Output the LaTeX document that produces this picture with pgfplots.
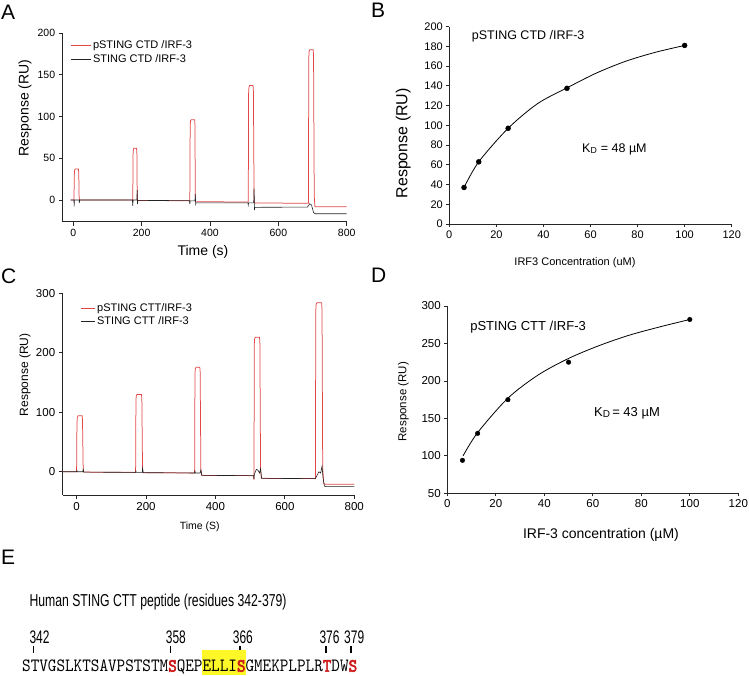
\documentclass[border=0pt]{standalone}
\usepackage{pgfplots}
\pgfplotsset{compat=1.18}
\usepackage{fontspec}
\setmainfont{Liberation Sans}
\newfontfamily\mono[AutoFakeBold=3]{Latin Modern Mono}
\definecolor{spr}{RGB}{226,70,70}
\definecolor{refl}{RGB}{35,35,35}
\definecolor{resred}{RGB}{205,25,25}
\definecolor{hl}{RGB}{255,248,40}
\newcommand{\fs}[1]{\fontsize{#1}{#1}\selectfont}

\pgfplotsset{
  panel/.style={
    scale only axis, clip=false,
    axis lines=left, axis line style={-, black!85, line width=0.8pt},
    tick align=outside, major tick length=4pt,
    tick style={black!85, line width=0.8pt},
    /pgf/number format/assume math mode=true,
    scaled ticks=false,
    xlabel style={anchor=center}, ylabel style={anchor=center},
  },
  sprleg/.style={
    legend cell align=left,
    legend style={draw=none, fill=none, inner sep=0pt, row sep=0pt},
  },
}

\begin{document}
\begin{tikzpicture}
\useasboundingbox (0pt,0pt) rectangle (749pt,676pt);

% panel letters
\node[anchor=base west, inner sep=0pt] at (1pt,656pt) {\fs{21}A};
\node[anchor=base west, inner sep=0pt] at (371pt,658pt) {\fs{21}B};
\node[anchor=base west, inner sep=0pt] at (1pt,392pt) {\fs{21}C};
\node[anchor=base west, inner sep=0pt] at (371pt,393pt) {\fs{21}D};
\node[anchor=base west, inner sep=0pt] at (1pt,111pt) {\fs{21}E};

% ---------- A: sensorgram, CTD ----------
\begin{axis}[panel, sprleg,
  at={(62.7pt,454.3pt)}, anchor=south west,
  width=284pt, height=188.7pt,
  xmin=-31, xmax=800, ymin=-26, ymax=200,
  xtick={0,200,400,600,800}, ytick={0,50,100,150,200},
  tick label style={font=\fs{10.5}},
  xlabel={Time (s)}, ylabel={Response (RU)},
  xlabel style={at={(axis description cs:0.494,-0.16)}, font=\fs{14}},
  ylabel style={at={(axis description cs:-0.133,0.603)}, font=\fs{14}},
  legend style={at={(axis description cs:0.026,0.97)}, anchor=north west, font=\fs{11}},
  legend image code/.code={\draw[#1] (0pt,0pt) -- (20pt,0pt);},
]
\addplot[spr, line width=0.75pt] coordinates {
  (-8,0) (2,0) (3,30) (4,36) (6,37) (15,37) (16,33) (17,5) (18,0)
  (174,0) (175,55) (176,61) (178,62) (185,62) (186,58) (187,5) (188,-0.5)
  (341,-1) (342,88) (343,95) (345,96) (355,96) (356,90) (357,5) (358,-2)
  (512,-2.5) (513,128) (514,135) (516,137) (526,137) (527,130) (529,5) (530,-3.5)
  (688,-4) (689,170) (690,178) (692,180) (702,180) (703,172) (705,5) (707,-8) (800,-8)
};
\addlegendentry{pSTING CTD /IRF-3}
\addplot[refl, line width=0.6pt] coordinates {
  (-8,0) (2,0) (2.5,-8) (3,0) (17,0) (17.6,-3.6) (18.5,0)
  (173,0) (174,-7) (175,0) (186,0) (187,12) (188,-5) (189,-0.5)
  (340,-0.8) (341,-5) (342,-1) (356,-1) (357,7) (358,-5) (359,-3.5)
  (511,-3.5) (512,-6) (513,-3.5) (528,-3.5) (529,14) (530,-12) (531,-8.8)
  (685,-8.5) (692,-4.5) (697,-6) (703,-15) (708,-16.5) (800,-16.5)
};
\addlegendentry{STING CTD /IRF-3}
\end{axis}

% ---------- B: binding curve, CTD ----------
\begin{axis}[panel,
  at={(449.3pt,452pt)}, anchor=south west,
  width=282.4pt, height=197.3pt,
  xmin=0, xmax=120, ymin=0, ymax=200,
  xtick={0,20,...,120}, ytick={0,20,...,200},
  major tick length=3pt,
  tick label style={font=\fs{11}},
  xlabel={IRF3 Concentration (uM)}, ylabel={Response (RU)},
  xlabel style={at={(axis description cs:0.445,-0.198)}, font=\fs{11}},
  ylabel style={at={(axis description cs:-0.163,0.409)}, font=\fs{16}},
]
\addplot[black, line width=0.8pt, smooth] coordinates {
  (6.25,37) (12.5,63) (25,97) (37.5,122) (50,138) (62.5,153) (75,165) (87.5,174) (100,181)
};
\addplot[only marks, mark=*, mark size=2.5pt, black] coordinates {
  (6.25,37) (12.5,63) (25,97) (50,137.5) (100,181)
};
\node[anchor=west, inner sep=0pt] at (axis cs:9.5,190) {\fs{12.5}pSTING CTD /IRF-3};
\node[anchor=west, inner sep=0pt] at (axis cs:56.4,76) {\fs{12.5}K\textsubscript{D} = 48 µM};
\end{axis}

% ---------- C: sensorgram, CTT ----------
\begin{axis}[panel, sprleg,
  at={(62.7pt,181pt)}, anchor=south west,
  width=291.6pt, height=201.7pt,
  xmin=-40, xmax=800, ymin=-39, ymax=300,
  xtick={0,200,400,600,800}, ytick={0,100,200,300},
  tick label style={font=\fs{11.5}},
  xlabel={Time (S)}, ylabel={Response (RU)},
  xlabel style={at={(axis description cs:0.47,-0.159)}, font=\fs{10.5}},
  ylabel style={at={(axis description cs:-0.129,0.595)}, font=\fs{12}},
  legend style={at={(axis description cs:0.06,0.96)}, anchor=north west, font=\fs{11}},
  legend image code/.code={\draw[#1] (0pt,0pt) -- (14pt,0pt);},
]
\addplot[spr, line width=0.75pt] coordinates {
  (-40,0) (0,0) (1,80) (2,91) (4,94) (16,94) (17,88) (19,5) (20,-0.5)
  (170,-1) (171,120) (172,128) (174,130) (187,130) (188,122) (190,5) (191,-1.5)
  (340,-2) (341,165) (342,173) (344,175.5) (355,175.5) (356,168) (358,5) (360,-6)
  (510,-6.5) (511,-14) (512,215) (513,224) (515,226) (527,226) (528,216) (530,5) (532,-11)
  (688,-11.5) (689,270) (690,281) (692,284) (706,284) (707,272) (709,5) (712,-20) (716,-21) (800,-21)
};
\addlegendentry{pSTING CTT/IRF-3}
\addplot[refl, line width=0.6pt] coordinates {
  (-40,0) (0,0) (1,2) (2,0) (18,0) (19,4) (21,-0.5)
  (170,-1) (171,1) (172,-1) (189,-1) (190,6) (192,-1.5)
  (340,-2) (341,1) (342,-2) (356,-2) (358,3) (361,-6)
  (510,-6.5) (511,-12) (512,-4) (518,4) (522,3) (527,-2) (530,5) (533,-11)
  (688,-11.5) (690,-9) (698,0) (703,-2) (707,9) (710,-10) (714,-24) (720,-25) (800,-25)
};
\addlegendentry{STING CTT /IRF-3}
\end{axis}

% ---------- D: binding curve, CTT ----------
\begin{axis}[panel,
  at={(447.3pt,182.7pt)}, anchor=south west,
  width=291pt, height=187.3pt,
  xmin=0, xmax=120, ymin=50, ymax=300,
  xtick={0,20,...,120}, ytick={50,100,...,300},
  major tick length=3pt,
  tick label style={font=\fs{11.5}},
  xlabel={IRF-3 concentration (µM)}, ylabel={Response (RU)},
  xlabel style={at={(axis description cs:0.528,-0.223)}, font=\fs{14}},
  ylabel style={at={(axis description cs:-0.151,0.489)}, font=\fs{11.5}},
]
\addplot[black, line width=0.8pt, smooth] coordinates {
  (6.5,100) (12.5,131) (25,177) (37.5,208) (50,230) (62.5,247) (75,261) (87.5,272) (100,282)
};
\addplot[only marks, mark=*, mark size=2.3pt, black] coordinates {
  (6.25,94) (12.5,130) (25,175) (50,225) (100,282)
};
\node[anchor=west, inner sep=0pt] at (axis cs:9.4,272) {\fs{13}pSTING CTT /IRF-3};
\node[anchor=west, inner sep=0pt] at (axis cs:60.5,156.8) {\fs{13}K\raisebox{-1pt}{\fs{10}D}\,= 43 µM};
\end{axis}

% ---------- E: peptide sequence ----------
\node[anchor=base west, inner sep=0pt] at (29.3pt,69.3pt)
  {\resizebox{257pt}{12.5pt}{Human STING CTT peptide (residues 342-379)}};
\foreach \x/\lab in {29.3/342, 165.7/358, 232.7/366, 319.3/376, 344/379}
  \node[anchor=base west, inner sep=0pt] at (\x pt,32.7pt) {\resizebox{20pt}{12.7pt}{\lab}};
\foreach \x in {33.3, 170.7, 240, 326, 351}
  \draw[black, line width=1.3pt] (\x pt,23pt) -- (\x pt,30pt);
\fill[hl] (202.3pt,1pt) rectangle (245.7pt,26pt);
\node[anchor=base west, inner sep=0pt] at (22pt,4.3pt)
  {\resizebox{335pt}{11.7pt}{\mono STVGSLKTSAVPSTSTM\textcolor{resred}{\bfseries S}QEPELLI\textcolor{resred}{\bfseries S}GMEKPLPLR\textcolor{resred}{\bfseries T}DW\textcolor{resred}{\bfseries S}}};
\end{tikzpicture}
\end{document}
